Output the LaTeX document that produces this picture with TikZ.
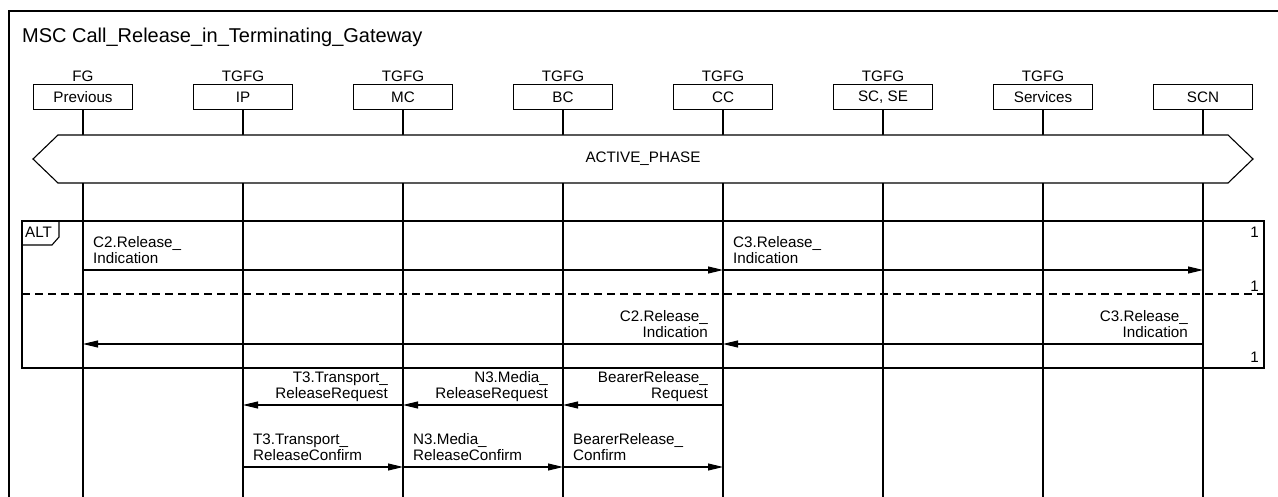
\documentclass[tikz,border=0pt]{standalone}
\usepackage{fontspec}
\setmainfont{Liberation Sans}
\usepackage{tikz}
\usetikzlibrary{arrows.meta,positioning}
\tikzset{
    head/.style={draw, line width=1.1pt, minimum width=99pt, minimum height=25pt, inner sep=0pt, outer sep=0pt, font=\fontsize{15.2}{16}\selectfont},
    headlbl/.style={inner sep=0pt, font=\fontsize{15.2}{16}\selectfont},
    lifeline/.style={line width=1.1pt},
    frame/.style={line width=1.1pt},
    phasebox/.style={draw, fill=white, line width=1.1pt},
    msg/.style={-{Triangle[length=15pt, width=7pt]}, line width=1.1pt},
    msglbl/.style={inner sep=0pt, text depth=0pt, font=\fontsize{15.2}{16}\selectfont}
}

\begin{document}
\begin{tikzpicture}[
    x=1pt, y=-1pt,
    alt_frame/.style={line width=1.1pt},
    alt_split/.style={line width=1.1pt, dash pattern=on 8pt off 5pt},
    count_lbl/.style={inner sep=0pt, anchor=base east, font=\fontsize{15.2}{16}\selectfont}
]
  \useasboundingbox (0,0) rectangle (1278,497);

  % Frame and title
  \draw[frame] (1278,11) -| (9,497);
  \node[inner sep=0pt, anchor=base west, font=\fontsize{20}{22}\selectfont] (title) at (22,42.5)
    {MSC Call\_Release\_in\_Terminating\_Gateway};

  % Instance heads
  \node[head, label={[headlbl, label distance=2.5pt]above:FG}] (prev) at (83,97) {Previous};
  \node[head, right=61pt of prev, label={[headlbl, label distance=2.5pt]above:TGFG}] (ip) {IP};
  \node[head, right=61pt of ip, label={[headlbl, label distance=2.5pt]above:TGFG}] (mc) {MC};
  \node[head, right=61pt of mc, label={[headlbl, label distance=2.5pt]above:TGFG}] (bc) {BC};
  \node[head, right=61pt of bc, label={[headlbl, label distance=2.5pt]above:TGFG}] (cc) {CC};
  \node[head, right=61pt of cc, label={[headlbl, label distance=2.5pt]above:TGFG}] (scse) {SC, SE};
  \node[head, right=61pt of scse, label={[headlbl, label distance=2.5pt]above:TGFG}] (serv) {Services};
  \node[head, right=61pt of serv] (scn) {SCN};

  % Lifelines
  \coordinate (bottom) at (0,497);
  \foreach \inst in {prev,ip,mc,bc,cc,scse,serv,scn}
    \draw[lifeline] (\inst.south) -- (\inst.south |- bottom);

  % Condition
  \draw[phasebox] (33,159) -- (58,135) -- (1228,135) -- (1253,159) -- (1228,183) -- (58,183) -- cycle;
  \node[font=\fontsize{15.2}{16}\selectfont] (phase) at (643,159) {ACTIVE\_PHASE};

  % ALT inline expression
  \draw[alt_frame] (22,221) rectangle (1264,368);
  \draw[alt_frame] (22,245) -- (52,245) -- (59,237) -- (59,221);
  \node[inner sep=0pt, anchor=base west, font=\fontsize{15.2}{16}\selectfont] (alt) at (25,238) {ALT};
  \draw[alt_split] (22,294) -- (1264,294);
  \node[count_lbl] (one_a) at (1259,238) {1};
  \node[count_lbl] (one_b) at (1259,291) {1};
  \node[count_lbl] (one_c) at (1259,362) {1};

  % Message rows
  \coordinate (r1) at (0,270);
  \coordinate (r2) at (0,344);
  \coordinate (r3) at (0,405);
  \coordinate (r4) at (0,467);

  % ALT: first branch
  \draw[msg] (prev |- r1) -- (cc |- r1);
  \node[msglbl, align=left, anchor=south west] (c2_fwd) at ([xshift=10pt, yshift=6pt]prev |- r1) {C2.Release\_\\Indication};
  \draw[msg] (cc |- r1) -- (scn |- r1);
  \node[msglbl, align=left, anchor=south west] (c3_fwd) at ([xshift=10pt, yshift=6pt]cc |- r1) {C3.Release\_\\Indication};

  % ALT: second branch
  \draw[msg] (scn |- r2) -- (cc |- r2);
  \node[msglbl, align=right, anchor=south east] (c3_back) at ([xshift=-15pt, yshift=6pt]scn |- r2) {C3.Release\_\\Indication};
  \draw[msg] (cc |- r2) -- (prev |- r2);
  \node[msglbl, align=right, anchor=south east] (c2_back) at ([xshift=-15pt, yshift=6pt]cc |- r2) {C2.Release\_\\Indication};

  % Release requests
  \draw[msg] (cc |- r3) -- (bc |- r3);
  \node[msglbl, align=right, anchor=south east] (req_b) at ([xshift=-15pt, yshift=6pt]cc |- r3) {BearerRelease\_\\Request};
  \draw[msg] (bc |- r3) -- (mc |- r3);
  \node[msglbl, align=right, anchor=south east] (req_n) at ([xshift=-15pt, yshift=6pt]bc |- r3) {N3.Media\_\\ReleaseRequest};
  \draw[msg] (mc |- r3) -- (ip |- r3);
  \node[msglbl, align=right, anchor=south east] (req_t) at ([xshift=-15pt, yshift=6pt]mc |- r3) {T3.Transport\_\\ReleaseRequest};

  % Release confirms
  \draw[msg] (ip |- r4) -- (mc |- r4);
  \node[msglbl, align=left, anchor=south west] (conf_t) at ([xshift=10pt, yshift=6pt]ip |- r4) {T3.Transport\_\\ReleaseConfirm};
  \draw[msg] (mc |- r4) -- (bc |- r4);
  \node[msglbl, align=left, anchor=south west] (conf_n) at ([xshift=10pt, yshift=6pt]mc |- r4) {N3.Media\_\\ReleaseConfirm};
  \draw[msg] (bc |- r4) -- (cc |- r4);
  \node[msglbl, align=left, anchor=south west] (conf_b) at ([xshift=10pt, yshift=6pt]bc |- r4) {BearerRelease\_\\Confirm};

\end{tikzpicture}
\end{document}
